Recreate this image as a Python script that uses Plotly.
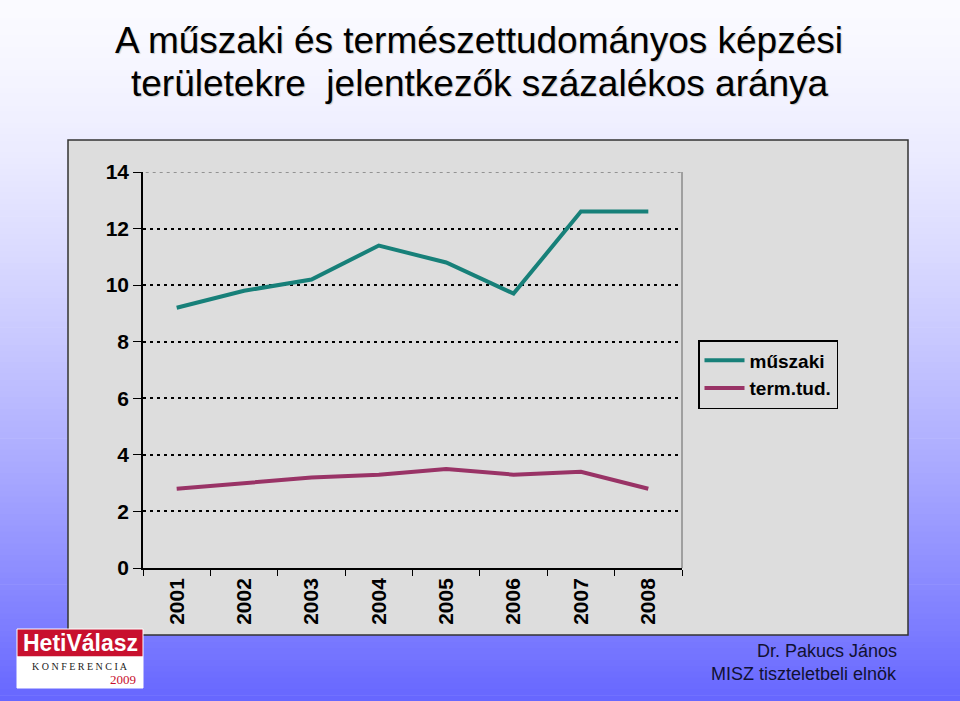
import plotly.graph_objects as go

# ---------------- data ----------------
years = ["2001", "2002", "2003", "2004", "2005", "2006", "2007", "2008"]
muszaki = [9.2, 9.8, 10.2, 11.4, 10.8, 9.7, 12.6, 12.6]
termtud = [2.8, 3.0, 3.2, 3.3, 3.5, 3.3, 3.4, 2.8]
series_names = ["műszaki", "term.tud."]
y_ticks = [0, 2, 4, 6, 8, 10, 12, 14]

W, H = 960, 701
FONT = "Arial, Liberation Sans, sans-serif"


def px_x(x):
    return x / W


def px_y(y):
    return 1 - y / H


fig = go.Figure()
fig.add_trace(go.Scatter(x=years, y=muszaki, mode="lines", name=series_names[0],
                         line=dict(color="#178079", width=4)))
fig.add_trace(go.Scatter(x=years, y=termtud, mode="lines", name=series_names[1],
                         line=dict(color="#993366", width=4)))

shapes = []
# gradient background
N = 120
for i in range(N):
    t0 = i / N
    t1 = (i + 1) / N
    tm = (t0 + t1) / 2
    f = tm ** 1.5
    r = round(250 - (250 - 102) * f)
    g = round(250 - (250 - 102) * f)
    b = 255
    shapes.append(dict(type="rect", xref="paper", yref="paper",
                       x0=0, x1=1, y0=1 - t1 - 0.001, y1=1 - t0,
                       fillcolor=f"rgb({r},{g},{b})", line=dict(width=0),
                       layer="below"))
# chart panel
shapes.append(dict(type="rect", xref="paper", yref="paper",
                   x0=px_x(68), x1=px_x(908), y0=px_y(635), y1=px_y(140),
                   fillcolor="#dddddd", line=dict(color="#333333", width=1.5),
                   layer="below"))
# top border of plot area: lighter dotted line over the top gridline
top_val = y_ticks[-1]
shapes.append(dict(type="line", xref="x domain", yref="y",
                   x0=0.005, x1=1, y0=top_val, y1=top_val,
                   line=dict(color="#dddddd", width=3), layer="above"))
shapes.append(dict(type="line", xref="x domain", yref="y",
                   x0=0.005, x1=1, y0=top_val, y1=top_val,
                   line=dict(color="#7a7a7a", width=1.5, dash="3px,4px"), layer="above"))
# plot area right border
shapes.append(dict(type="line", xref="paper", yref="paper",
                   x0=px_x(682), x1=px_x(682), y0=px_y(568), y1=px_y(172),
                   line=dict(color="#8a8a8a", width=1.5), layer="above"))
# logo boxes
shapes.append(dict(type="rect", xref="paper", yref="paper",
                   x0=px_x(17), x1=px_x(143), y0=px_y(657), y1=px_y(629),
                   fillcolor="#c8102e", line=dict(color="#ffffff", width=1),
                   layer="above"))
shapes.append(dict(type="rect", xref="paper", yref="paper",
                   x0=px_x(17), x1=px_x(143), y0=px_y(688), y1=px_y(657),
                   fillcolor="#ffffff", line=dict(color="#ffffff", width=1),
                   layer="above"))

annotations = [
    dict(text="A műszaki és természettudományos képzési", x=px_x(479), y=px_y(41),
         xref="paper", yref="paper", showarrow=False, xanchor="center", yanchor="middle",
         font=dict(family=FONT, size=37, color="#000000", shadow="1px 1px 1px #c8c8c8")),
    dict(text="területekre  jelentkezők százalékos aránya", x=px_x(480), y=px_y(83),
         xref="paper", yref="paper", showarrow=False, xanchor="center", yanchor="middle",
         font=dict(family=FONT, size=37, color="#000000", shadow="1px 1px 1px #c8c8c8")),
    dict(text="Dr. Pakucs János", x=px_x(899), y=px_y(651),
         xref="paper", yref="paper", showarrow=False, xanchor="right", yanchor="middle",
         font=dict(family=FONT, size=18, color="#111133")),
    dict(text="MISZ tiszteletbeli elnök", x=px_x(899), y=px_y(674),
         xref="paper", yref="paper", showarrow=False, xanchor="right", yanchor="middle",
         font=dict(family=FONT, size=18, color="#111133")),
    dict(text="<b>HetiVálasz</b>", x=px_x(80), y=px_y(643),
         xref="paper", yref="paper", showarrow=False, xanchor="center", yanchor="middle",
         font=dict(family="Liberation Sans Narrow, Arial Narrow, " + FONT, size=23, color="#ffffff")),
    dict(text="K O N F E R E N C I A", x=px_x(80), y=px_y(666),
         xref="paper", yref="paper", showarrow=False, xanchor="center", yanchor="middle",
         font=dict(family="Liberation Serif, Times New Roman, serif", size=10, color="#222222")),
    dict(text="2009", x=px_x(123), y=px_y(679),
         xref="paper", yref="paper", showarrow=False, xanchor="center", yanchor="middle",
         font=dict(family="Liberation Serif, Times New Roman, serif", size=13, color="#c8102e")),
]

fig.update_layout(
    width=W, height=H,
    margin=dict(l=0, r=0, t=0, b=0, pad=0, autoexpand=False),
    paper_bgcolor="#ffffff",
    plot_bgcolor="rgba(0,0,0,0)",
    shapes=shapes,
    annotations=annotations,
    showlegend=True,
    legend=dict(x=px_x(698), y=px_y(340), xanchor="left", yanchor="top",
                bgcolor="#dddddd", bordercolor="#000000", borderwidth=1.5,
                font=dict(family=FONT, size=19, color="#000000", weight="bold"),
                itemwidth=40),
    xaxis=dict(domain=[px_x(143), px_x(682)], type="category",
               range=[-0.5, len(years) - 0.5],
               tickson="boundaries", ticks="outside", ticklen=6, tickcolor="#000000",
               showline=True, linecolor="#000000", linewidth=1.5,
               showgrid=False, zeroline=False, automargin=False,
               tickangle=-90,
               tickfont=dict(family=FONT, size=21, color="#000000", weight="bold")),
    yaxis=dict(domain=[px_y(568), px_y(172)], range=[0, 14], tickvals=y_ticks,
               ticks="outside", ticklen=8, tickcolor="#000000",
               showline=True, linecolor="#000000", linewidth=1.5,
               showgrid=True, gridcolor="#000000", gridwidth=1.5, griddash="3px,4px",
               zeroline=False, automargin=False,
               tickfont=dict(family=FONT, size=21, color="#000000", weight="bold")),
)

fig.write_html("out.html")
